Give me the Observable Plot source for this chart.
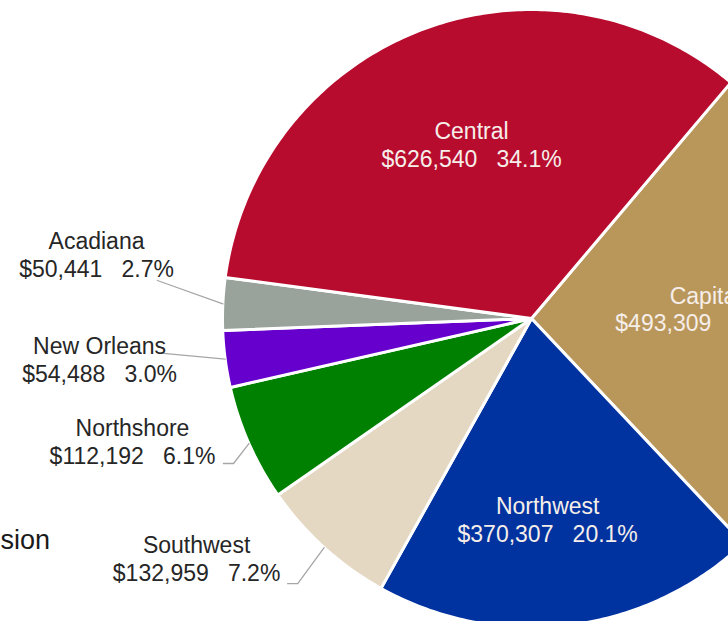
<!DOCTYPE html>
<html><head><meta charset="utf-8">
<script src="https://cdn.jsdelivr.net/npm/d3@7"></script>
<script src="https://cdn.jsdelivr.net/npm/@observablehq/plot@0.6"></script>
<style>html,body{margin:0;padding:0;background:#fff;overflow:hidden}</style>
</head><body><div id="chart"></div>
<script>
// ---- data ----
const regions  = ["Capital","Northwest","Southwest","Northshore","New Orleans","Acadiana","Central"];
const amounts  = [493309, 370307, 132959, 112192, 54488, 50441, 626540];
const percents = [26.8, 20.1, 7.2, 6.1, 3.0, 2.7, 34.1];
const colors   = ["#B9975B","#0033A0","#E5D8C3","#008000","#6600CC","#9AA39B","#B80C2F"];
const titleTail = "sion";

// ---- layout (polar: degrees clockwise from north, radius in pie radii) ----
const startDeg = 40.2;
const insideLabels  = {"Capital":[86.7,0.564], "Northwest":[175.4,0.652], "Central":[-19,0.596]};
const outsideLabels = {"Acadiana":[278.4,1.423], "New Orleans":[264.6,1.404], "Northshore":[252.9,1.351], "Southwest":[234.4,1.333]};
const leaderBends   = {"Acadiana":[[275.8,1.217]], "New Orleans":[[264.6,1.196]],
                       "Northshore":[[244.8,1.102],[244.05,1.0725]], "Southwest":[[222.6,1.166],[221.4,1.144]]};

const rad = d => d * Math.PI / 180;
const polar = (a, r) => ({x: Math.sin(a) * r, y: Math.cos(a) * r});

const s0 = rad(startDeg);
const arcs = d3.pie().sort(null).startAngle(s0).endAngle(s0 + 2 * Math.PI)(amounts);

const slicePts = [];
arcs.forEach((a, i) => {
  const n = Math.max(8, Math.ceil((a.endAngle - a.startAngle) * 80));
  slicePts.push({name: regions[i], x: 0, y: 0});
  for (let k = 0; k <= n; k++) {
    const t = a.startAngle + (a.endAngle - a.startAngle) * k / n;
    slicePts.push({name: regions[i], ...polar(t, 1)});
  }
  slicePts.push({name: regions[i], x: 0, y: 0});
});

const fmt = d3.format("$,");
const labelText = i => `${regions[i]}\n${fmt(amounts[i])}\u00A0\u00A0\u00A0${percents[i].toFixed(1)}%`;

const inside = [], outside = [], leaders = [];
regions.forEach((name, i) => {
  if (insideLabels[name]) {
    const [a, r] = insideLabels[name];
    inside.push({text: labelText(i), ...polar(rad(a), r)});
  }
  if (outsideLabels[name]) {
    const [a, r] = outsideLabels[name];
    outside.push({text: labelText(i), ...polar(rad(a), r)});
    const mid = (arcs[i].startAngle + arcs[i].endAngle) / 2;
    leaderBends[name].forEach(([ba, br]) => leaders.push({name, ...polar(rad(ba), br)}));
    leaders.push({name, ...polar(mid, 1)});
  }
});

// center at (531,318) px, radius 309 px
const W = 728, H = 621, cx = 531, cy = 318, R = 309;
const chart = Plot.plot({
  width: W, height: H, margin: 0,
  style: {fontFamily: "'Liberation Sans', Arial, sans-serif", background: "#fff"},
  x: {domain: [-cx / R, (W - cx) / R], axis: null},
  y: {domain: [-(H - cy) / R, cy / R], axis: null},
  color: {domain: regions, range: colors},
  marks: [
    Plot.line(slicePts, {x: "x", y: "y", z: "name", fill: "name", stroke: "white", strokeWidth: 3,
      strokeLinejoin: "round", clip: "frame"}),
    Plot.line(leaders, {x: "x", y: "y", z: "name", stroke: "#a6a6a6", strokeWidth: 1.3}),
    Plot.text(inside, {x: "x", y: "y", text: "text", fill: "#f6eee9", fontSize: 23, lineHeight: 1.2, clip: "frame"}),
    Plot.text(outside, {x: "x", y: "y", text: "text", fill: "#262626", fontSize: 23, lineHeight: 1.2}),
    Plot.text([titleTail], {frameAnchor: "left", textAnchor: "start", dy: 229, text: d => d, fontSize: 27, fill: "#1a1a1a"})
  ]
});
document.getElementById("chart").appendChild(chart);
</script>
</body></html>
